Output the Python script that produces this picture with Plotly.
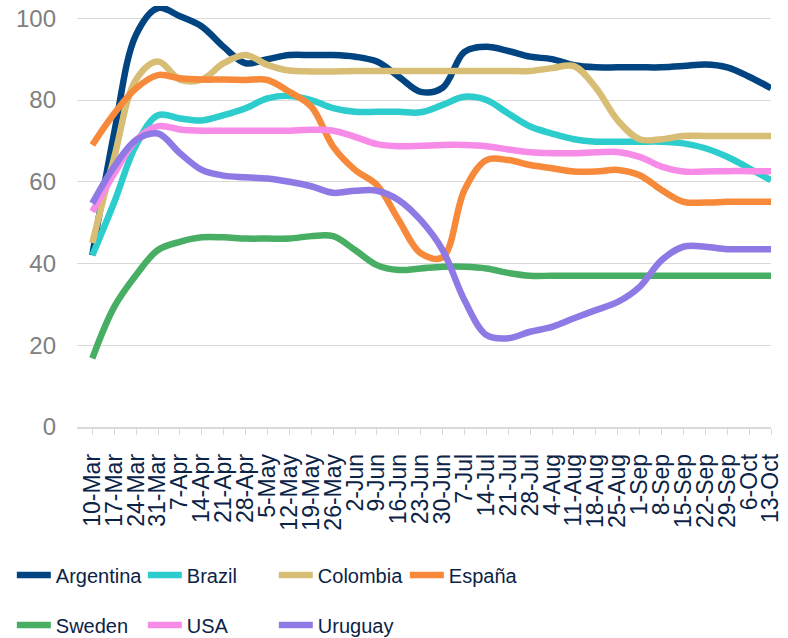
import plotly.graph_objects as go

dates = ["10-Mar", "17-Mar", "24-Mar", "31-Mar", "7-Apr", "14-Apr", "21-Apr", "28-Apr",
         "5-May", "12-May", "19-May", "26-May", "2-Jun", "9-Jun", "16-Jun", "23-Jun",
         "30-Jun", "7-Jul", "14-Jul", "21-Jul", "28-Jul", "4-Aug", "11-Aug", "18-Aug",
         "25-Aug", "1-Sep", "8-Sep", "15-Sep", "22-Sep", "29-Sep", "6-Oct", "13-Oct"]

argentina = [42, 72, 96, 102.5, 100.5, 98, 93, 89, 90, 91, 91, 91, 90.6, 89.4, 85.7, 82,
             83, 91.8, 93, 92, 90.6, 90, 88.5, 88, 88, 88, 88, 88.3, 88.7, 88, 85.7, 82.9]
brazil = [42, 55, 69, 76.3, 75.5, 75, 76.3, 78, 80.4, 81, 80, 78, 77.1, 77.1, 77.1, 77,
          78.8, 80.8, 80, 76.7, 73.5, 71.8, 70.4, 69.8, 69.8, 69.8, 69.8, 69.4, 68.2, 66.1, 63.3, 60.4]
colombia = [45, 66, 85, 89.4, 85, 85, 89, 91, 88.6, 87.2, 87, 87, 87.1, 87.1, 87.1, 87.1,
            87.1, 87.1, 87.1, 87.1, 87.1, 87.8, 88.3, 83, 75, 70.4, 70.4, 71.2, 71.2, 71.2, 71.2, 71.2]
espana = [69, 76.7, 82.9, 86.1, 85.3, 85, 85, 84.9, 84.9, 82, 78.4, 68.6, 62.9, 59.2, 50.6, 42.5,
          41.5, 58, 65.3, 65.3, 64.1, 63.3, 62.5, 62.5, 62.9, 61.6, 58, 55.1, 54.9, 55.1, 55.1, 55.1]
sweden = [16.8, 29.4, 37.2, 43.3, 45.3, 46.4, 46.4, 46.1, 46.1, 46.1, 46.7, 46.7, 43.3, 39.6, 38.4, 38.8,
          39.2, 39.2, 38.8, 37.7, 37, 37, 37, 37, 37, 37, 37, 37, 37, 37, 37, 37]
usa = [52.7, 62, 70.2, 73.6, 72.8, 72.5, 72.5, 72.5, 72.5, 72.5, 72.7, 72.5, 71, 69.2, 68.7, 68.8,
       69, 69, 68.7, 67.9, 67.2, 67, 67, 67.2, 67.3, 66.1, 63.7, 62.5, 62.5, 62.6, 62.6, 62.6]
uruguay = [54.7, 63.7, 70.2, 71.8, 67, 62.9, 61.5, 61.1, 60.8, 60, 58.9, 57.3, 57.8, 57.8, 55.5, 50.6,
           43.3, 31, 22.5, 21.7, 23.3, 24.5, 26.6, 28.6, 30.6, 34.3, 40.8, 44.1, 44.1, 43.5, 43.5, 43.5]

y_ticks = [0, 20, 40, 60, 80, 100]

series = [
    ("Argentina", argentina, "#004481", "legend"),
    ("Brazil", brazil, "#2DCCCD", "legend"),
    ("Colombia", colombia, "#D8BE75", "legend"),
    ("España", espana, "#F7893B", "legend"),
    ("Sweden", sweden, "#48AE64", "legend2"),
    ("USA", usa, "#F78BE8", "legend2"),
    ("Uruguay", uruguay, "#8F7AE5", "legend2"),
]

fig = go.Figure()
for name, vals, color, leg in series:
    fig.add_trace(go.Scatter(
        x=dates, y=vals, mode="lines", name=name, legend=leg,
        line=dict(color=color, width=6.5, shape="spline", smoothing=1.0),
    ))

legend_font = dict(family="Liberation Sans, Arial", size=20, color="#0b2346")
common_legend = dict(orientation="h", xref="container", yref="container", xanchor="left",
                     yanchor="middle", entrywidth=82, entrywidthmode="pixels",
                     font=legend_font, bgcolor="rgba(0,0,0,0)", itemwidth=34,
                     tracegroupgap=0)

fig.update_layout(
    width=788, height=638,
    margin=dict(l=77, r=5, t=6, b=211),
    plot_bgcolor="white", paper_bgcolor="white",
    showlegend=True,
    legend=dict(x=0.015, y=1 - 575 / 638, **common_legend),
    legend2=dict(x=0.015, y=1 - 625 / 638, **common_legend),
    xaxis=dict(
        type="category", range=[-0.7, 31], tickmode="linear", tick0=0, dtick=1,
        tickangle=-90, ticks="outside", ticklen=6, tickcolor="#d9d9d9", tickwidth=1.3,
        showline=True, linecolor="#d9d9d9", linewidth=1.5, showgrid=False,
        tickfont=dict(family="Liberation Sans, Arial", size=23, color="#0b2346"),
        ticklabelstandoff=10,
    ),
    yaxis=dict(
        range=[0, 103], tickmode="array", tickvals=y_ticks,
        showgrid=True, gridcolor="#d9d9d9", gridwidth=1.3, zeroline=False,
        showline=False, ticks="",
        tickfont=dict(family="Liberation Sans, Arial", size=24, color="#808080"),
        ticklabelstandoff=20,
    ),
)

fig.write_html("out.html")
